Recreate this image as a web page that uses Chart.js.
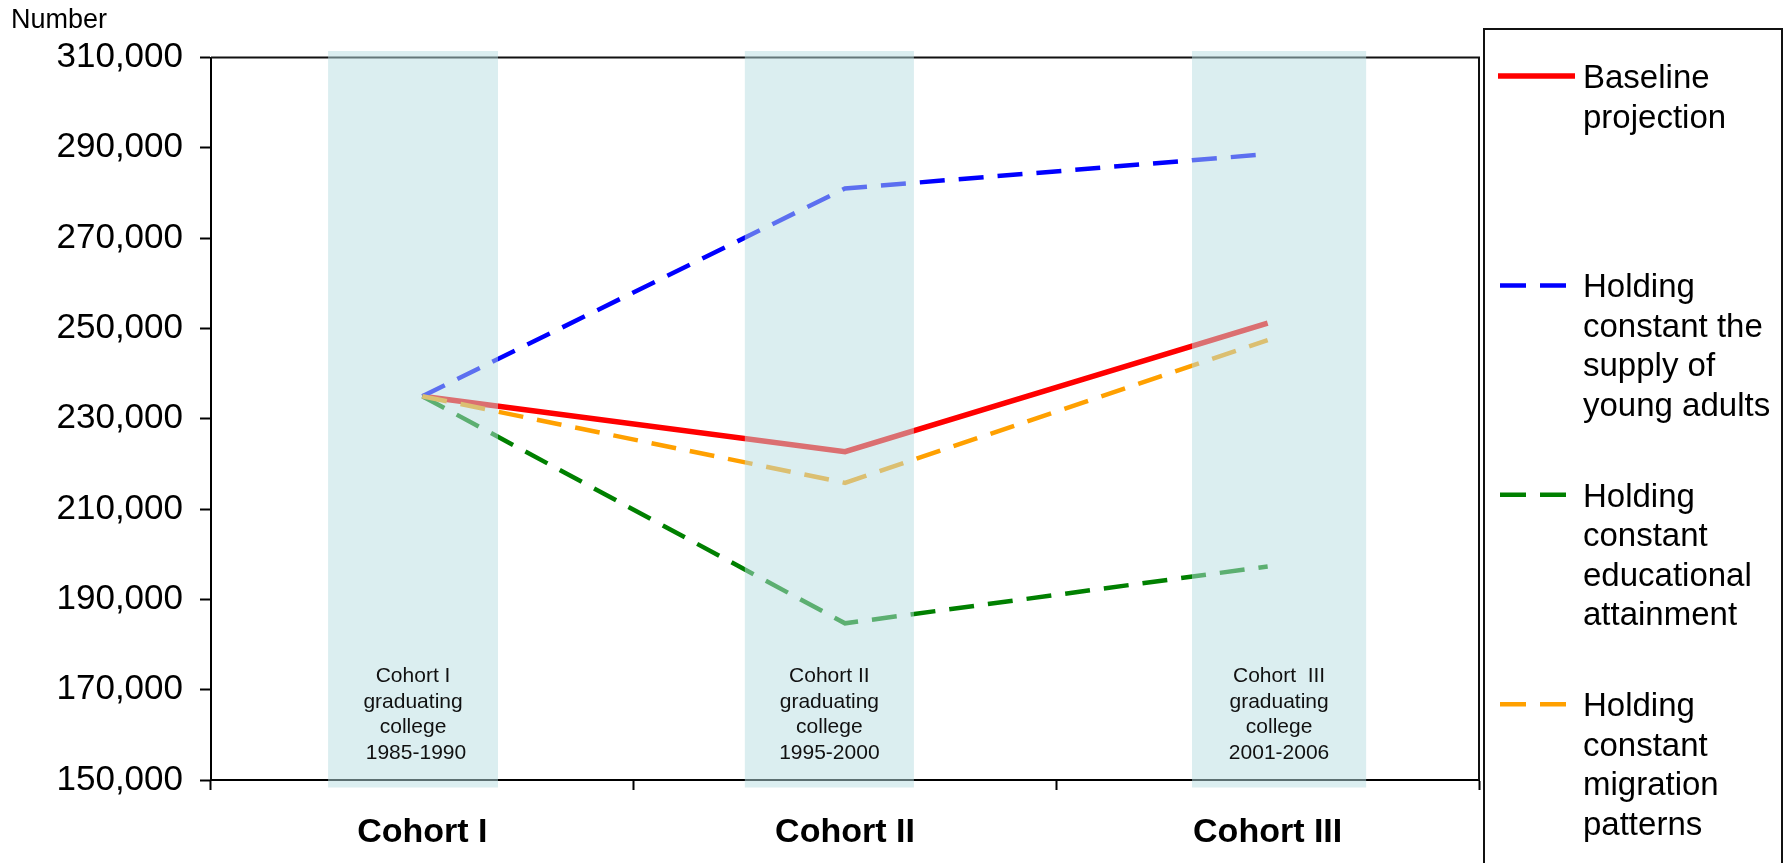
<!DOCTYPE html>
<html>
<head>
<meta charset="utf-8">
<script src="https://cdn.jsdelivr.net/npm/chart.js@4.4.0/dist/chart.umd.min.js"></script>
<style>
  html, body { margin: 0; padding: 0; background: #fff; }
  canvas { display: block; }
</style>
</head>
<body>
<canvas id="chart" width="1787" height="863"></canvas>
<script>
// Categories along the x axis
const cohorts = ['Cohort I', 'Cohort II', 'Cohort III'];

// Projected number of college-educated young adults, per scenario
const baseline        = [235000, 222700, 251200];
const constSupply     = [235000, 281000, 288600];
const constEducation  = [235000, 184700, 197300];
const constMigration  = [235000, 215800, 247400];

// Value axis tick labels
const yTicks = [150000, 170000, 190000, 210000, 230000, 250000, 270000, 290000, 310000];

// Legend wording, one entry per line of text
const seriesNames = [
  ['Baseline', 'projection'],
  ['Holding', 'constant the', 'supply of', 'young adults'],
  ['Holding', 'constant', 'educational', 'attainment'],
  ['Holding', 'constant', 'migration', 'patterns']
];

// Notes printed inside the shaded cohort bands
const bandNotes = [
  ['Cohort I', 'graduating', 'college', ' 1985-1990'],
  ['Cohort II', 'graduating', 'college', '1995-2000'],
  ['Cohort  III', 'graduating', 'college', '2001-2006']
];

// Layout of the shaded bands, in category units along the x scale
const bandLayout = {
  spans: [[-0.223, 0.179], [0.763, 1.163], [1.821, 2.233]],
  overTop: 6.5,
  underBottom: 7.5,
  fill: 'rgba(183,221,226,0.5)',
  noteFont: '21px "Liberation Sans", Arial, sans-serif',
  noteBaselineFromBottom: 98,
  noteLineGap: 25.5
};

const seriesStyles = [
  { color: '#ff0000', width: 5.5, dash: [] },
  { color: '#0000ff', width: 4.5, dash: [25, 14] },
  { color: '#008000', width: 4.5, dash: [25, 14] },
  { color: '#ffa000', width: 4.5, dash: [25, 14] }
];

const seriesValues = [baseline, constSupply, constEducation, constMigration];

const datasets = seriesValues.map((vals, i) => ({
  label: seriesNames[i].join(' '),
  data: vals,
  borderColor: seriesStyles[i].color,
  backgroundColor: seriesStyles[i].color,
  borderWidth: seriesStyles[i].width,
  borderDash: seriesStyles[i].dash,
  pointRadius: 0,
  pointHoverRadius: 0,
  tension: 0,
  fill: false,
  order: seriesValues.length - i
}));

// Top/right frame, translucent cohort bands and their notes
const bandsPlugin = {
  id: 'cohortBands',
  afterDatasetsDraw(chart) {
    const { ctx, chartArea: a, scales: { x } } = chart;
    ctx.save();
    ctx.strokeStyle = '#111';
    ctx.lineWidth = 2;
    ctx.beginPath();
    ctx.moveTo(a.left, a.top);
    ctx.lineTo(a.right, a.top);
    ctx.lineTo(a.right, a.bottom);
    ctx.stroke();

    ctx.fillStyle = bandLayout.fill;
    bandLayout.spans.forEach(([s, e]) => {
      const x0 = x.getPixelForValue(s);
      const x1 = x.getPixelForValue(e);
      ctx.fillRect(x0, a.top - bandLayout.overTop, x1 - x0,
        a.bottom - a.top + bandLayout.overTop + bandLayout.underBottom);
    });

    ctx.fillStyle = '#111';
    ctx.font = bandLayout.noteFont;
    ctx.textAlign = 'center';
    ctx.textBaseline = 'alphabetic';
    bandLayout.spans.forEach(([s, e], i) => {
      const cx = (x.getPixelForValue(s) + x.getPixelForValue(e)) / 2;
      const lines = bandNotes[i];
      const lastBase = a.bottom - bandLayout.noteBaselineFromBottom + (lines.length - 1) * bandLayout.noteLineGap;
      lines.forEach((t, k) => {
        const yb = lastBase - (lines.length - 1 - k) * bandLayout.noteLineGap;
        ctx.fillText(t, cx, yb);
      });
    });
    ctx.restore();
  }
};

// Boxed legend on the right and the "Number" axis caption
const sideLegendPlugin = {
  id: 'sideLegend',
  afterDraw(chart) {
    const { ctx } = chart;
    ctx.save();
    ctx.fillStyle = '#000';
    ctx.font = '27px "Liberation Sans", Arial, sans-serif';
    ctx.textAlign = 'left';
    ctx.textBaseline = 'alphabetic';
    ctx.fillText('Number', 11, 28);

    ctx.strokeStyle = '#111';
    ctx.lineWidth = 2;
    ctx.strokeRect(1484, 29, 298, 860);

    ctx.font = '33px "Liberation Sans", Arial, sans-serif';
    chart.data.datasets.forEach((ds, i) => {
      const base = 88 + i * 209.4;
      const ly = base - 12;
      ctx.beginPath();
      ctx.strokeStyle = ds.borderColor;
      ctx.lineWidth = ds.borderWidth;
      if (ds.borderDash.length) {
        ctx.setLineDash([26, 14]);
        ctx.moveTo(1500, ly);
        ctx.lineTo(1566, ly);
      } else {
        ctx.setLineDash([]);
        ctx.moveTo(1498, ly);
        ctx.lineTo(1575, ly);
      }
      ctx.stroke();
      ctx.setLineDash([]);
      ctx.fillStyle = '#000';
      seriesNames[i].forEach((t, k) => ctx.fillText(t, 1583, base + k * 39.5));
    });
    ctx.restore();
  }
};

new Chart(document.getElementById('chart'), {
  type: 'line',
  data: { labels: cohorts, datasets },
  options: {
    responsive: false,
    animation: false,
    devicePixelRatio: 1,
    layout: { padding: { top: 57.5, right: 308, left: 0, bottom: 0 } },
    plugins: { legend: { display: false }, tooltip: { enabled: false } },
    scales: {
      x: {
        type: 'category',
        offset: true,
        afterFit: s => { s.height = 83; },
        grid: {
          offset: true,
          drawOnChartArea: false,
          drawTicks: true,
          tickLength: 10,
          tickWidth: 2,
          tickColor: '#000'
        },
        border: { display: true, color: '#000', width: 2 },
        ticks: {
          color: '#000',
          padding: 22,
          font: { family: '"Liberation Sans", Arial, sans-serif', size: 34, weight: 'bold' }
        }
      },
      y: {
        min: yTicks[0],
        max: yTicks[yTicks.length - 1],
        afterFit: s => { s.width = 211; },
        afterBuildTicks: s => { s.ticks = yTicks.map(v => ({ value: v })); },
        grid: {
          drawOnChartArea: false,
          drawTicks: true,
          tickLength: 11,
          tickWidth: 2,
          tickColor: '#000'
        },
        border: { display: true, color: '#000', width: 2 },
        ticks: {
          color: '#000',
          padding: 17,
          font: { family: '"Liberation Sans", Arial, sans-serif', size: 35 },
          callback: v => v.toLocaleString('en-US')
        }
      }
    }
  },
  plugins: [bandsPlugin, sideLegendPlugin]
});
</script>
</body>
</html>
